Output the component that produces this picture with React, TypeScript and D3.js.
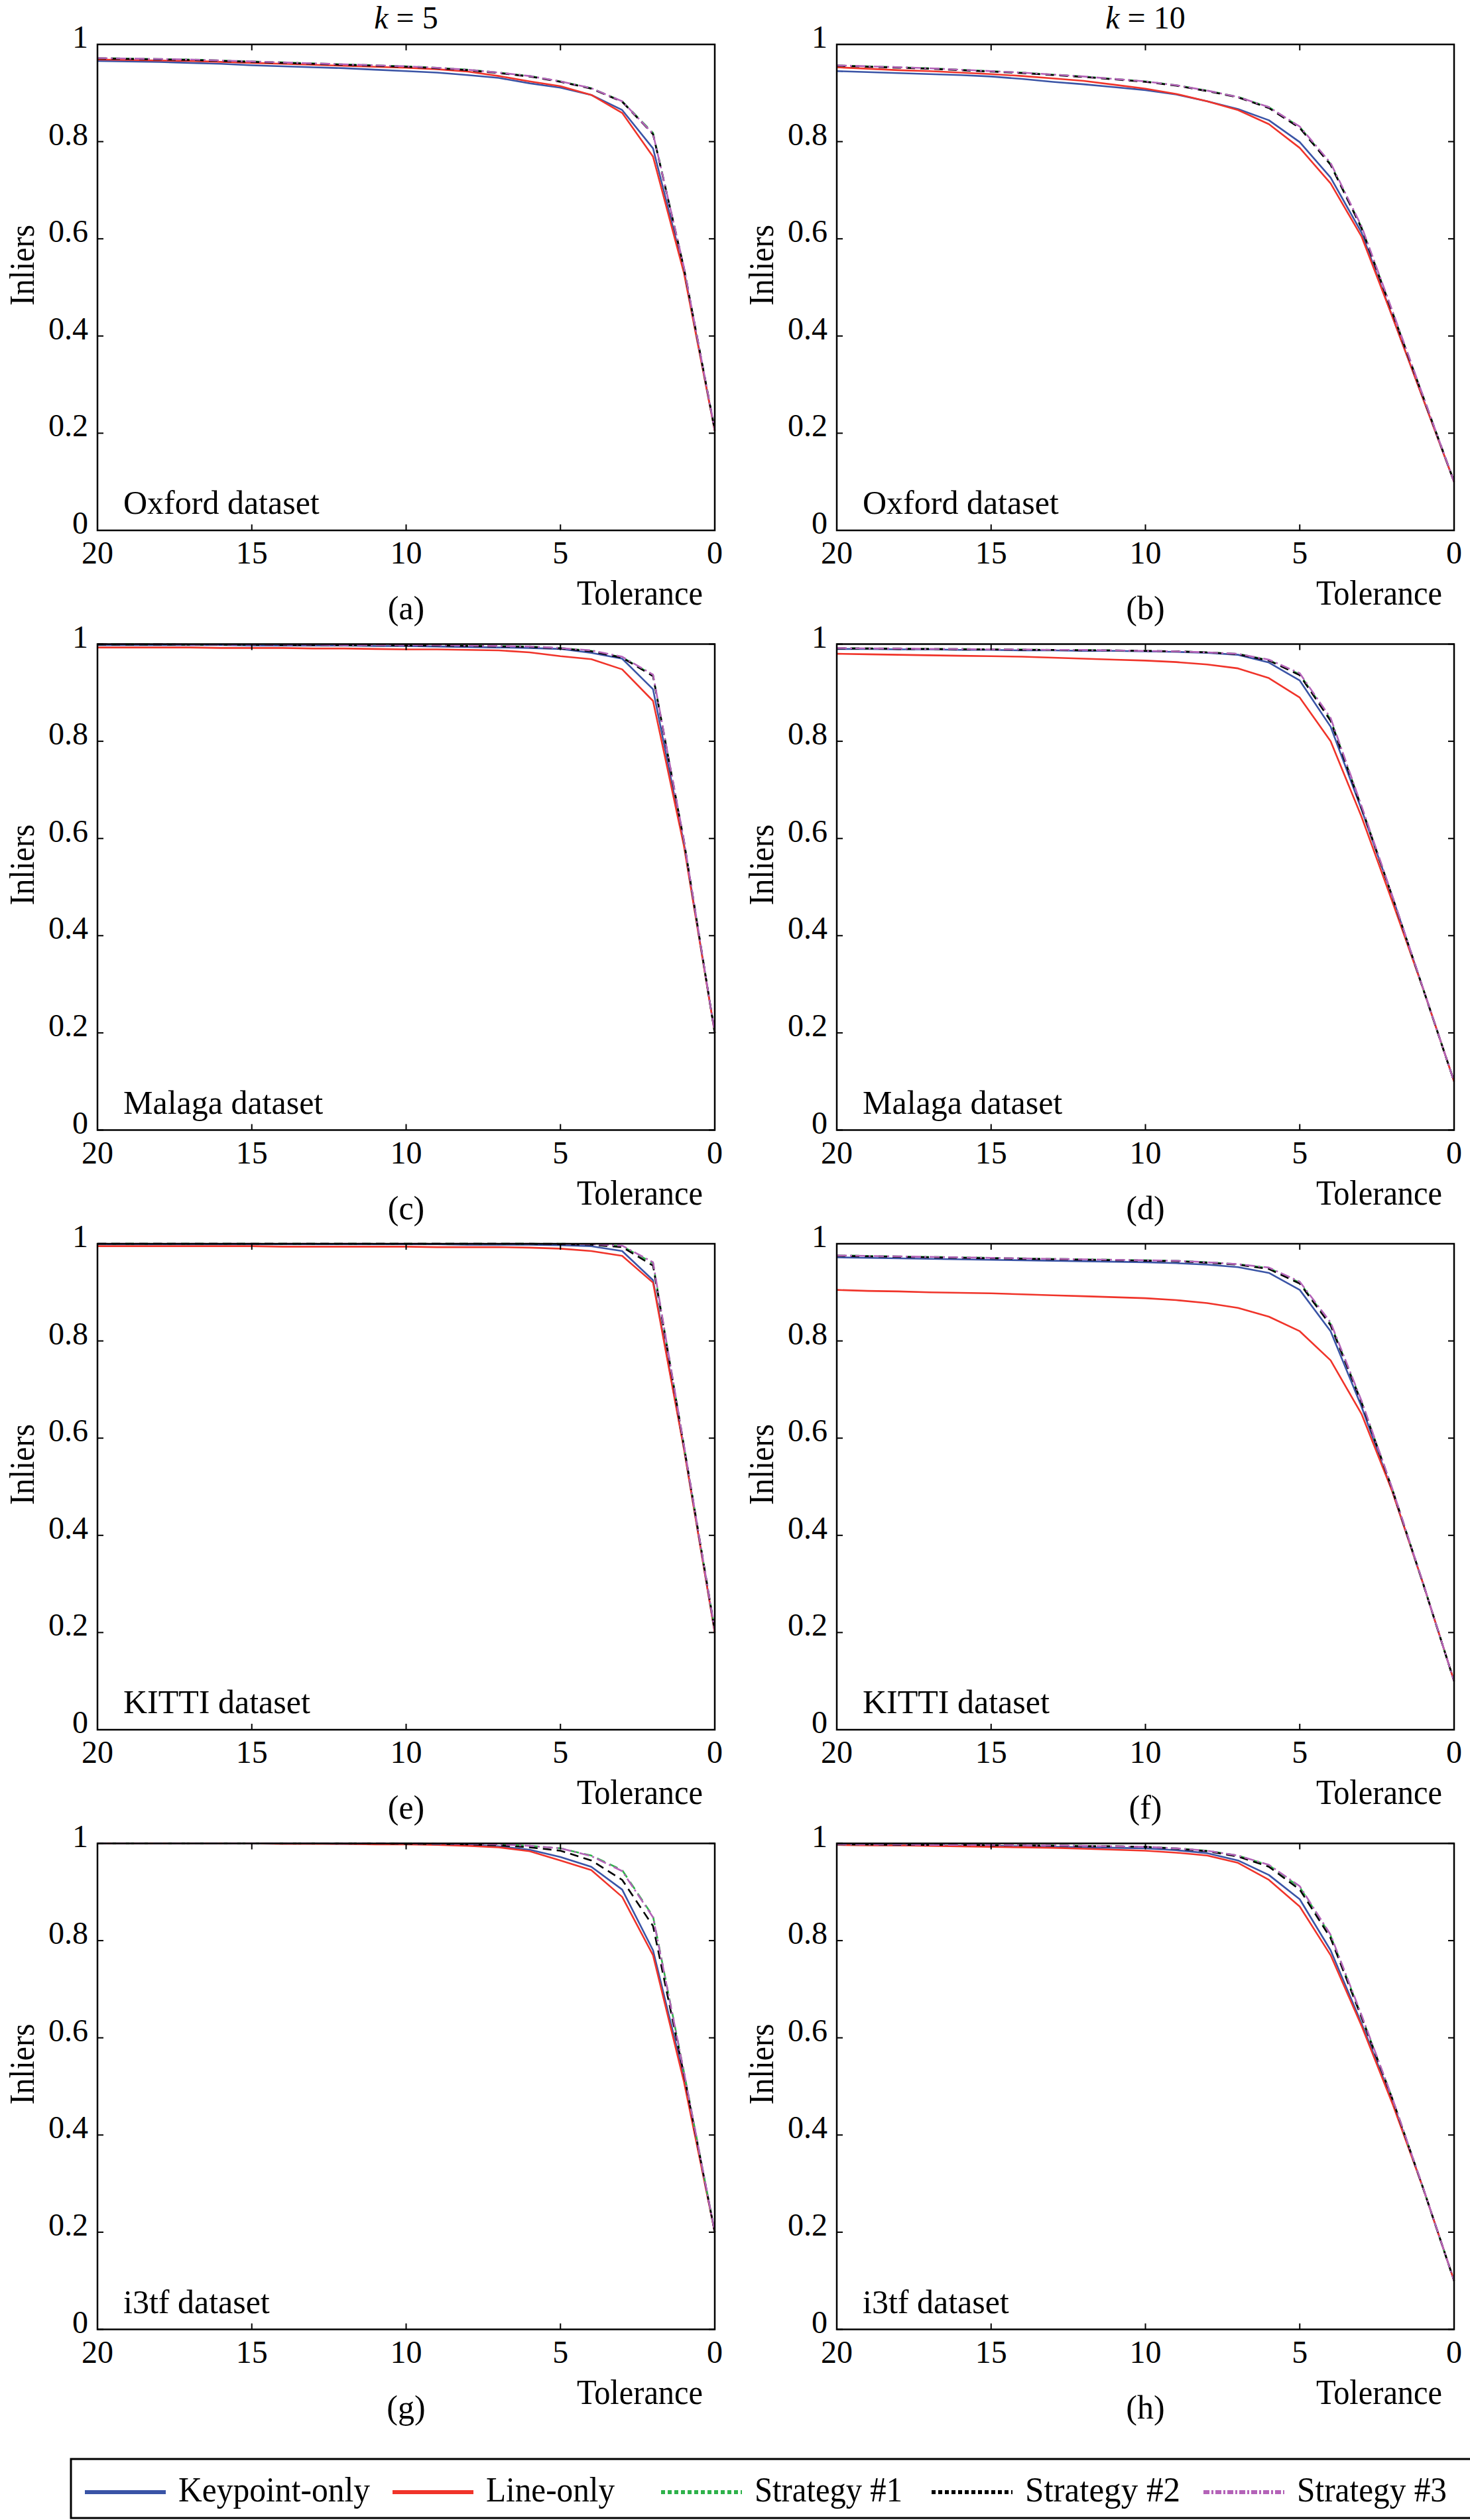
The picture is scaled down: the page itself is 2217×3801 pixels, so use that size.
import * as d3 from 'd3';

// tolerance values, read left to right (axis runs 20 -> 0)
const tolerance = [20, 19, 18, 17, 16, 15, 14, 13, 12, 11, 10, 9, 8, 7, 6, 5, 4, 3, 2, 1, 0];

const seriesNames = ['Keypoint-only', 'Line-only', 'Strategy #1', 'Strategy #2', 'Strategy #3'];
const seriesColors = ['#3a54a6', '#f0342a', '#2eb24a', '#000000', '#b463b8'];
const plotDash = [null, null, '13,8', '13,8', '15,5,3,5'];
const legendDash = [null, null, '6,4', '6,4', '9,3,3,3'];

const yTicks = [0, 0.2, 0.4, 0.6, 0.8, 1];
const yTickLabels = ['0', '0.2', '0.4', '0.6', '0.8', '1'];
const xTicks = [20, 15, 10, 5, 0];
const xTickLabels = ['20', '15', '10', '5', '0'];

const panelLabels = ['(a)', '(b)', '(c)', '(d)', '(e)', '(f)', '(g)', '(h)'];
const datasetNames = ['Oxford dataset', 'Oxford dataset', 'Malaga dataset', 'Malaga dataset',
  'KITTI dataset', 'KITTI dataset', 'i3tf dataset', 'i3tf dataset'];
const columnTitles = ['5', '10'];

// (a) Oxford, k = 5
const oxfordK5Key = [.966, .965, .964, .962, .960, .957, .955, .953, .951, .948, .945, .942, .937, .931, .920, .911, .896, .865, .786, .535, .205];
const oxfordK5Line = [.969, .968, .967, .966, .964, .962, .960, .958, .956, .954, .952, .949, .944, .935, .924, .914, .896, .859, .769, .530, .205];
const oxfordK5S1 = [.972, .971, .970, .969, .967, .965, .963, .961, .959, .957, .955, .952, .948, .942, .935, .924, .910, .883, .818, .540, .207];
const oxfordK5S2 = [.971, .970, .969, .968, .966, .964, .962, .960, .958, .956, .954, .951, .947, .941, .934, .923, .909, .882, .815, .540, .207];
const oxfordK5S3 = [.972, .971, .970, .969, .967, .965, .963, .961, .959, .957, .955, .952, .948, .942, .935, .924, .910, .883, .816, .542, .207];

// (b) Oxford, k = 10
const oxfordK10Key = [.945, .943, .941, .939, .937, .934, .929, .923, .918, .912, .906, .897, .883, .867, .844, .799, .726, .613, .440, .270, .100];
const oxfordK10Line = [.953, .950, .947, .945, .942, .939, .935, .930, .925, .917, .909, .898, .883, .865, .836, .787, .714, .605, .440, .270, .100];
const oxfordK10S1 = [.957, .955, .953, .951, .948, .945, .942, .938, .934, .929, .924, .916, .905, .892, .871, .830, .754, .624, .450, .275, .100];
const oxfordK10S2 = [.956, .954, .952, .950, .947, .944, .941, .937, .933, .928, .923, .915, .904, .891, .869, .828, .752, .622, .448, .274, .100];
const oxfordK10S3 = [.957, .955, .953, .951, .948, .945, .942, .938, .934, .929, .924, .916, .905, .892, .871, .831, .756, .626, .452, .276, .100];

// (c) Malaga, k = 5
const malagaK5Key = [.998, .998, .998, .998, .998, .997, .997, .997, .997, .996, .996, .995, .994, .993, .992, .990, .982, .970, .907, .590, .200];
const malagaK5Line = [.993, .993, .993, .993, .992, .992, .992, .991, .991, .990, .989, .989, .988, .987, .983, .975, .969, .948, .883, .585, .200];
const malagaK5S1 = [1.0, 1.0, 1.0, .999, .999, .999, .999, .999, .998, .998, .998, .998, .997, .996, .995, .992, .986, .973, .936, .595, .200];
const malagaK5S2 = [.999, .999, .999, .999, .999, .999, .998, .998, .998, .998, .997, .997, .996, .995, .994, .991, .985, .972, .934, .595, .200];
const malagaK5S3 = [1.0, 1.0, 1.0, .999, .999, .999, .999, .999, .998, .998, .998, .998, .997, .996, .995, .992, .987, .974, .937, .597, .200];

// (d) Malaga, k = 10
const malagaK10Key = [.990, .990, .989, .989, .988, .988, .987, .987, .986, .986, .985, .984, .982, .978, .962, .925, .830, .660, .480, .290, .100];
const malagaK10Line = [.980, .979, .978, .977, .976, .975, .974, .972, .970, .968, .966, .963, .958, .950, .930, .890, .800, .645, .470, .290, .100];
const malagaK10S1 = [.992, .991, .991, .990, .990, .989, .989, .988, .988, .987, .986, .985, .983, .980, .967, .938, .845, .665, .480, .290, .100];
const malagaK10S2 = [.991, .991, .990, .990, .989, .989, .988, .988, .987, .987, .986, .985, .983, .979, .966, .936, .842, .663, .480, .290, .100];
const malagaK10S3 = [.992, .991, .991, .990, .990, .989, .989, .988, .988, .987, .986, .985, .983, .980, .968, .940, .848, .667, .482, .291, .100];

// (e) KITTI, k = 5
const kittiK5Key = [.999, .999, .999, .999, .999, .999, .999, .999, .999, .999, .999, .999, .998, .998, .998, .997, .995, .985, .925, .580, .200];
const kittiK5Line = [.995, .995, .995, .995, .995, .995, .994, .994, .994, .994, .994, .993, .993, .993, .992, .990, .985, .975, .920, .578, .200];
const kittiK5S1 = [1.0, 1.0, 1.0, 1.0, 1.0, 1.0, 1.0, 1.0, 1.0, 1.0, 1.0, 1.0, 1.0, 1.0, 1.0, 1.0, .999, .995, .960, .585, .205];
const kittiK5S2 = [1.0, 1.0, 1.0, 1.0, 1.0, 1.0, 1.0, 1.0, 1.0, 1.0, 1.0, 1.0, 1.0, 1.0, 1.0, .999, .998, .993, .955, .584, .205];
const kittiK5S3 = [1.0, 1.0, 1.0, 1.0, 1.0, 1.0, 1.0, 1.0, 1.0, 1.0, 1.0, 1.0, 1.0, 1.0, 1.0, 1.0, .999, .996, .962, .586, .205];

// (f) KITTI, k = 10
const kittiK10Key = [.972, .971, .970, .969, .968, .967, .966, .965, .964, .963, .962, .960, .957, .952, .940, .905, .820, .665, .490, .300, .100];
const kittiK10Line = [.905, .903, .902, .900, .899, .898, .896, .894, .892, .890, .888, .884, .878, .868, .850, .820, .760, .650, .490, .300, .100];
const kittiK10S1 = [.976, .975, .974, .973, .972, .971, .970, .969, .968, .967, .966, .965, .962, .958, .950, .920, .835, .675, .495, .300, .100];
const kittiK10S2 = [.975, .974, .973, .972, .971, .970, .969, .968, .967, .966, .965, .964, .961, .957, .948, .918, .832, .673, .494, .300, .100];
const kittiK10S3 = [.976, .975, .974, .973, .972, .971, .970, .969, .968, .967, .966, .965, .962, .958, .951, .922, .838, .677, .496, .301, .100];

// (g) i3tf, k = 5
const i3tfK5Key = [1.0, 1.0, 1.0, 1.0, 1.0, 1.0, 1.0, 1.0, .999, .999, .999, .998, .997, .994, .987, .972, .952, .905, .780, .520, .200];
const i3tfK5Line = [1.0, 1.0, 1.0, 1.0, 1.0, 1.0, .999, .999, .999, .998, .998, .997, .995, .992, .984, .965, .945, .890, .770, .510, .200];
const i3tfK5S1 = [1.0, 1.0, 1.0, 1.0, 1.0, 1.0, 1.0, 1.0, 1.0, 1.0, 1.0, .999, .999, .998, .995, .990, .975, .945, .850, .530, .200];
const i3tfK5S2 = [1.0, 1.0, 1.0, 1.0, 1.0, 1.0, 1.0, 1.0, 1.0, 1.0, .999, .999, .998, .996, .992, .985, .965, .925, .830, .525, .200];
const i3tfK5S3 = [1.0, 1.0, 1.0, 1.0, 1.0, 1.0, 1.0, 1.0, 1.0, 1.0, 1.0, .999, .999, .998, .995, .990, .974, .943, .848, .530, .200];

// (h) i3tf, k = 10
const i3tfK10Key = [.997, .997, .996, .996, .995, .995, .994, .993, .992, .991, .990, .986, .980, .965, .935, .885, .780, .630, .470, .290, .100];
const i3tfK10Line = [.997, .996, .996, .995, .994, .993, .992, .991, .989, .987, .985, .981, .975, .960, .925, .870, .770, .625, .465, .290, .100];
const i3tfK10S1 = [.998, .998, .998, .997, .997, .997, .996, .996, .995, .994, .993, .990, .985, .975, .955, .910, .810, .645, .475, .290, .100];
const i3tfK10S2 = [.998, .998, .997, .997, .997, .996, .996, .995, .994, .994, .993, .989, .984, .973, .952, .905, .805, .642, .474, .290, .100];
const i3tfK10S3 = [.998, .998, .998, .997, .997, .997, .996, .996, .995, .994, .993, .990, .985, .975, .956, .912, .812, .647, .476, .291, .100];

const panelSeries = [
  [oxfordK5Key, oxfordK5Line, oxfordK5S1, oxfordK5S2, oxfordK5S3],
  [oxfordK10Key, oxfordK10Line, oxfordK10S1, oxfordK10S2, oxfordK10S3],
  [malagaK5Key, malagaK5Line, malagaK5S1, malagaK5S2, malagaK5S3],
  [malagaK10Key, malagaK10Line, malagaK10S1, malagaK10S2, malagaK10S3],
  [kittiK5Key, kittiK5Line, kittiK5S1, kittiK5S2, kittiK5S3],
  [kittiK10Key, kittiK10Line, kittiK10S1, kittiK10S2, kittiK10S3],
  [i3tfK5Key, i3tfK5Line, i3tfK5S1, i3tfK5S2, i3tfK5S3],
  [i3tfK10Key, i3tfK10Line, i3tfK10S1, i3tfK10S2, i3tfK10S3],
];

const FONT = '"Liberation Serif", "Times New Roman", serif';
const W = 2217;
const H = 3801;
const colLeft = [147, 1262];
const plotW = 931;
const plotH = 733;
const rowTop = 67;
const rowStep = 904.5;
const tickLen = 9;

// legend layout (x start of each sample line, text width)
const legendX = [128, 592, 997, 1405, 1815];
const legendTextW = [289, 194, 223, 234, 226];

function Panel({ index }: { index: number }) {
  const col = index % 2;
  const row = Math.floor(index / 2);
  const left = colLeft[col];
  const top = rowTop + row * rowStep;
  const right = left + plotW;
  const bottom = top + plotH;

  const x = d3.scaleLinear().domain([20, 0]).range([left, right]);
  const y = d3.scaleLinear().domain([0, 1]).range([bottom, top]);
  const line = d3.line<number>()
    .x((_, i) => x(tolerance[i]))
    .y(d => y(d));

  const series = panelSeries[index];
  const cx = (left + right) / 2;

  return (
    <g>
      {row === 0 && (
        <text x={cx} y={43} textAnchor="middle" fontSize={48} fontFamily={FONT}>
          <tspan fontStyle="italic">k</tspan> = {columnTitles[col]}
        </text>
      )}
      {series.map((vals, s) => (
        <path key={s} d={line(vals) || ''} fill="none" stroke={seriesColors[s]}
          strokeWidth={2.6} strokeDasharray={plotDash[s] || undefined}
          strokeLinejoin="round" />
      ))}
      <rect x={left} y={top} width={plotW} height={plotH} fill="none" stroke="#000" strokeWidth={2.5} />
      {xTicks.map(t => (
        <g key={'xt' + t}>
          <line x1={x(t)} x2={x(t)} y1={bottom} y2={bottom - tickLen} stroke="#000" strokeWidth={2} />
          <line x1={x(t)} x2={x(t)} y1={top} y2={top + tickLen} stroke="#000" strokeWidth={2} />
        </g>
      ))}
      {yTicks.map(t => (
        <g key={'yt' + t}>
          <line x1={left} x2={left + tickLen} y1={y(t)} y2={y(t)} stroke="#000" strokeWidth={2} />
          <line x1={right} x2={right - tickLen} y1={y(t)} y2={y(t)} stroke="#000" strokeWidth={2} />
        </g>
      ))}
      {yTicks.map((t, i) => (
        <text key={'yl' + t} x={left - 14} y={y(t) + 5} textAnchor="end" fontSize={48} fontFamily={FONT}>
          {yTickLabels[i]}
        </text>
      ))}
      {xTicks.map((t, i) => (
        <text key={'xl' + t} x={x(t)} y={bottom + 50} textAnchor="middle" fontSize={48} fontFamily={FONT}>
          {xTickLabels[i]}
        </text>
      ))}
      <text x={left + 39} y={bottom - 25} fontSize={50} fontFamily={FONT}>{datasetNames[index]}</text>
      <text x={right - 18} y={bottom + 112} textAnchor="end" fontSize={52} fontFamily={FONT}
        textLength={190} lengthAdjust="spacingAndGlyphs">Tolerance</text>
      <text x={cx} y={bottom + 134} textAnchor="middle" fontSize={50} fontFamily={FONT}>{panelLabels[index]}</text>
      <text transform={`translate(${left - 96},${top + 333}) rotate(-90)`} textAnchor="middle"
        fontSize={53} fontFamily={FONT} textLength={122} lengthAdjust="spacingAndGlyphs">Inliers</text>
    </g>
  );
}

function Legend() {
  const top = 3709;
  const ly = 3759;
  return (
    <g>
      <rect x={107} y={top} width={2140} height={89} fill="#fff" stroke="#000" strokeWidth={3} />
      {seriesNames.map((name, i) => (
        <g key={name}>
          <line x1={legendX[i]} x2={legendX[i] + 122} y1={ly} y2={ly} stroke={seriesColors[i]}
            strokeWidth={6} strokeDasharray={legendDash[i] || undefined} />
          <text x={legendX[i] + 141} y={3773} fontSize={53} fontFamily={FONT}
            textLength={legendTextW[i]} lengthAdjust="spacingAndGlyphs">{name}</text>
        </g>
      ))}
    </g>
  );
}

export default function App() {
  return (
    <svg width={W} height={H} viewBox={`0 0 ${W} ${H}`}
      style={{ position: 'absolute', left: 0, top: 0, background: '#fff' }}>
      <rect width={W} height={H} fill="#fff" />
      {panelLabels.map((_, i) => <Panel key={i} index={i} />)}
      <Legend />
    </svg>
  );
}
